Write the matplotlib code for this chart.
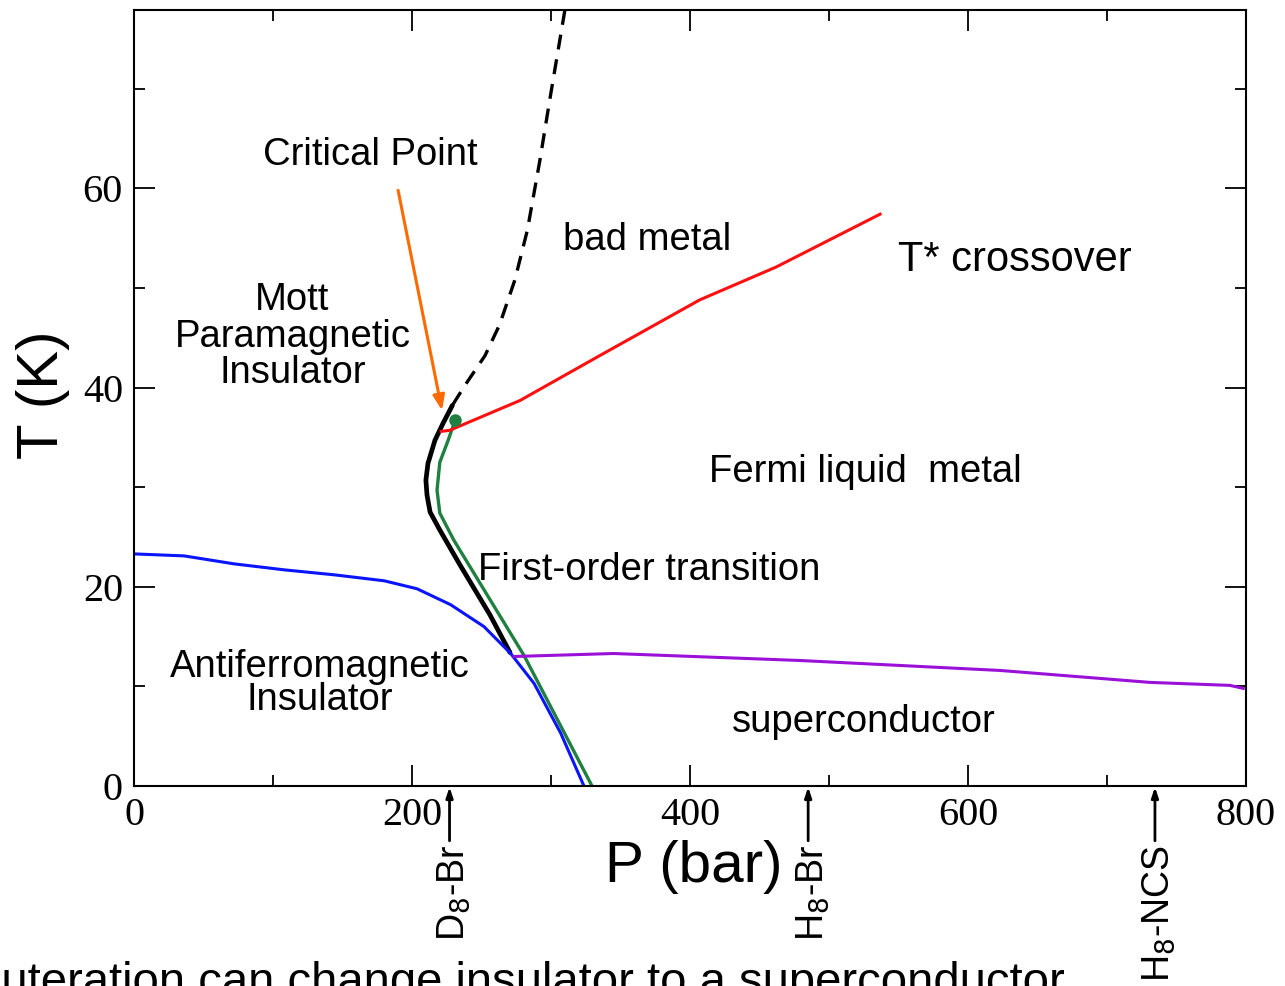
import matplotlib
matplotlib.use("Agg")
import matplotlib.pyplot as plt
from matplotlib.ticker import MultipleLocator

# ---- data (P in bar, T in K) ----
dashed_P = [310, 299, 292, 283, 274, 263, 252.5, 238, 229]
dashed_T = [77.9, 68.8, 62.8, 55.8, 50.8, 46.3, 43.2, 40.2, 38.2]

first_order_P = [229, 222.3, 216.5, 211.5, 210, 210.8, 213, 220, 234.5, 256, 270.5]
first_order_T = [38.2, 36.4, 34.7, 32.4, 30.7, 29.2, 27.5, 25.7, 22.2, 17.2, 13.4]

green_P = [231, 226, 220, 218, 220, 230, 280.6, 329.5]
green_T = [36.7, 34.7, 32.5, 29.7, 27.4, 24.7, 13.1, 0.0]

blue_P = [0, 36, 72, 108, 144, 180, 203.6, 227.8, 251.8, 271, 287.8, 307, 323.7]
blue_T = [23.3, 23.1, 22.3, 21.7, 21.2, 20.6, 19.8, 18.2, 16.0, 13.3, 10.3, 5.3, 0.0]

purple_P = [273.4, 345, 479, 623, 731, 788.5, 798]
purple_T = [13.0, 13.3, 12.6, 11.6, 10.4, 10.1, 9.8]

red_P = [221, 227, 277.7, 335, 407, 462, 536.7]
red_T = [35.6, 35.7, 38.7, 43.2, 48.8, 52.1, 57.4]

critical_P, critical_T = 231, 36.7

compound_labels = ["D$_8$-Br", "H$_8$-Br", "H$_8$-NCS"]
compound_P = [227, 485, 734.5]

xticks = [0, 200, 400, 600, 800]
yticks = [0, 20, 40, 60]

SANS = ["Liberation Sans", "DejaVu Sans"]
SERIF = ["Liberation Serif", "DejaVu Serif"]

fig = plt.figure(figsize=(12.85, 9.86), dpi=100)
ax = fig.add_axes([134/1285, (986-786)/986, (1246-134)/1285, (786-10)/986])

ax.plot(dashed_P, dashed_T, color="black", lw=2.4, ls=(0, (4.5, 3)))
ax.plot(first_order_P, first_order_T, color="black", lw=3.4,
        solid_capstyle="round", solid_joinstyle="round")
ax.plot(green_P, green_T, color="#1f8040", lw=2.4, solid_joinstyle="round")
ax.plot(blue_P, blue_T, color="#0a14ff", lw=2.2, solid_joinstyle="round")
ax.plot(purple_P, purple_T, color="#9a10d8", lw=2.2)
ax.plot(red_P, red_T, color="#ff1010", lw=2.2)
ax.plot([critical_P], [critical_T], "o", color="#1f8040", ms=8)

ax.set_xlim(0, 800)
ax.set_ylim(0, 77.9)
ax.xaxis.set_minor_locator(MultipleLocator(100))
ax.yaxis.set_minor_locator(MultipleLocator(10))
ax.set_xticks(xticks)
ax.set_yticks(yticks)
ax.tick_params(which="both", direction="in", top=True, right=True, width=1.3)
ax.tick_params(which="major", length=15, pad=8)
ax.tick_params(which="minor", length=8)
for lab in ax.get_xticklabels() + ax.get_yticklabels():
    lab.set_family(SERIF)
    lab.set_fontsize(29)
for s in ax.spines.values():
    s.set_linewidth(1.5)

ax.set_xlabel("P (bar)", family=SANS, fontsize=42)
ax.set_ylabel("T (K)", family=SANS, fontsize=42)
ax.xaxis.set_label_coords(0.503, -0.07)
ax.yaxis.set_label_coords(-0.058, 0.504)

fs = 27.5
ax.text(169.8, 63.3, "Critical Point", family=SANS, fontsize=fs, ha="center", va="center")
ax.text(369, 54.8, "bad metal", family=SANS, fontsize=fs, ha="center", va="center")
ax.text(633.8, 52.8, "T* crossover", family=SANS, fontsize=30, ha="center", va="center")
ax.text(114, 45.1, "Mott\nParamagnetic\nInsulator", family=SANS, fontsize=fs,
        ha="center", va="center", linespacing=1.02)
ax.text(526, 31.5, "Fermi liquid  metal", family=SANS, fontsize=fs, ha="center", va="center")
ax.text(370.5, 21.7, "First-order transition", family=SANS, fontsize=fs, ha="center", va="center")
ax.text(133.8, 10.3, "Antiferromagnetic\nInsulator", family=SANS, fontsize=fs,
        ha="center", va="center", linespacing=0.92)
ax.text(525, 6.4, "superconductor", family=SANS, fontsize=fs, ha="center", va="center")

ax.annotate("", xy=(221.6, 37.7), xytext=(190, 59.8),
            arrowprops=dict(arrowstyle="-|>,head_length=0.9,head_width=0.35",
                            color="#ff6a00", lw=2.2, shrinkA=0, shrinkB=0))

for lab, p in zip(compound_labels, compound_P):
    ax.annotate("", xy=(p, -0.1), xytext=(p, -5.5), annotation_clip=False,
                arrowprops=dict(arrowstyle="-|>,head_length=0.6,head_width=0.2",
                                color="black", lw=2.0, shrinkA=0, shrinkB=0))
    ax.text(p + 3, -5.9, lab, family=SANS, fontsize=27, rotation=90,
            ha="center", va="top", clip_on=False)

fig.text(1065/1285, -0.009, "Deuteration can change insulator to a superconductor",
         family=SANS, fontsize=34, ha="right", va="baseline")

fig.savefig("out.png", dpi=100)
